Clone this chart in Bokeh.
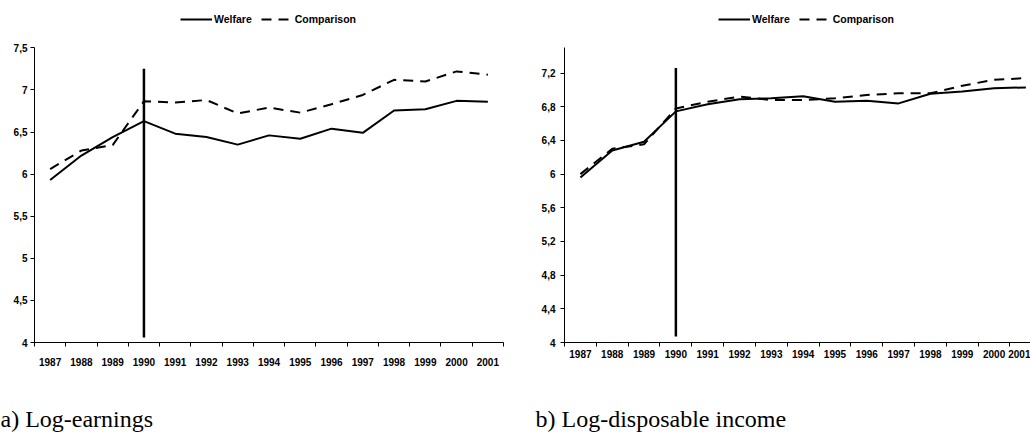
from bokeh.plotting import figure
from bokeh.layouts import row
from bokeh.models import (Range1d, FixedTicker, CustomJSTickFormatter, Legend, LegendItem,
                          Title, ColumnDataSource)
from bokeh.embed import file_html
from bokeh.resources import INLINE

years = ["1987", "1988", "1989", "1990", "1991", "1992", "1993", "1994",
         "1995", "1996", "1997", "1998", "1999", "2000", "2001"]

earn_welfare = [5.93, 6.22, 6.44, 6.63, 6.48, 6.44, 6.35, 6.46, 6.42, 6.54, 6.49, 6.755, 6.77, 6.87, 6.86]
earn_comparison = [6.06, 6.28, 6.345, 6.865, 6.85, 6.88, 6.72, 6.79, 6.73, 6.83, 6.94, 7.12, 7.10, 7.22, 7.18]

inc_welfare = [5.96, 6.28, 6.385, 6.745, 6.83, 6.89, 6.90, 6.925, 6.86, 6.87, 6.84, 6.955, 6.98, 7.02, 7.03]
inc_comparison = [6.0, 6.30, 6.355, 6.78, 6.86, 6.92, 6.88, 6.88, 6.90, 6.94, 6.96, 6.96, 7.05, 7.12, 7.14]

earn_yticks = [4, 4.5, 5, 5.5, 6, 6.5, 7, 7.5]
inc_yticks = [4, 4.4, 4.8, 5.2, 5.6, 6, 6.4, 6.8, 7.2]
y_axis_min, y_axis_max = 4, 7.5

marker_year = "1990"
earn_marker = (4.06, 7.25)
inc_marker = (4.07, 7.26)

FONT = "Liberation Sans"
FRAME_H = 299  # height of the axis part of the plot
EXTRA = 48     # space above the axis top (for the legend), inside the frame


def make_panel(welfare, comparison, yticks, marker, caption, width, border_left,
               border_right, x_end, x_standoff, y_standoff, legend_x, caption_offset,
               spacer_standoff):
    centers = [i + 0.5 for i in range(len(years))]
    units_per_px = (y_axis_max - y_axis_min) / FRAME_H
    p = figure(width=width, height=432, output_backend="svg", toolbar_location=None,
               x_range=Range1d(0, x_end),
               y_range=Range1d(y_axis_min, y_axis_max + EXTRA * units_per_px),
               min_border_left=border_left, min_border_right=border_right,
               min_border_top=0, min_border_bottom=85)
    p.outline_line_color = None
    p.xgrid.grid_line_color = None
    p.ygrid.grid_line_color = None
    p.background_fill_color = "white"
    p.border_fill_color = "white"

    src = ColumnDataSource(dict(x=centers, w=welfare, c=comparison))
    rw = p.line("x", "w", source=src, line_color="black", line_width=2)
    rc = p.line("x", "c", source=src, line_color="black", line_width=2, line_dash="10 7")

    mx = centers[years.index(marker_year)]
    p.segment(x0=[mx], y0=[marker[0]], x1=[mx], y1=[marker[1]], line_color="black", line_width=2.5)

    xa = p.xaxis[0]
    xa.ticker = FixedTicker(ticks=centers, minor_ticks=list(range(len(years) + 1)))
    xa.major_label_overrides = {c: y for c, y in zip(centers, years)}
    xa.major_tick_line_color = None
    xa.major_tick_out = 0
    xa.major_tick_in = 0
    xa.minor_tick_out = 4
    xa.minor_tick_in = 0
    xa.minor_tick_line_color = "black"
    xa.axis_line_color = "black"
    xa.major_label_standoff = x_standoff
    xa.major_label_text_font = FONT
    xa.major_label_text_font_style = "bold"
    xa.major_label_text_font_size = "10px"
    xa.major_label_text_color = "black"
    # blank spacer label to push the caption down
    xa.axis_label = " "
    xa.axis_label_text_font_size = "10px"
    xa.axis_label_standoff = spacer_standoff

    ya = p.yaxis[0]
    ya.bounds = (y_axis_min, y_axis_max)
    ya.ticker = FixedTicker(ticks=yticks, minor_ticks=[])
    ya.formatter = CustomJSTickFormatter(code="""
        var s = (Math.round(tick * 10) / 10).toString();
        return s.replace('.', ',');
    """)
    ya.major_tick_out = 4
    ya.major_tick_in = 0
    ya.major_tick_line_color = "black"
    ya.axis_line_color = "black"
    ya.major_label_standoff = y_standoff
    ya.major_label_text_font = FONT
    ya.major_label_text_font_style = "bold"
    ya.major_label_text_font_size = "10px"
    ya.major_label_text_color = "black"

    legend = Legend(items=[LegendItem(label="Welfare", renderers=[rw]),
                           LegendItem(label="Comparison", renderers=[rc])],
                    orientation="horizontal", location=(legend_x, FRAME_H + EXTRA - 30),
                    glyph_width=32, glyph_height=10, label_standoff=2, spacing=9,
                    padding=0, margin=0, border_line_color=None,
                    background_fill_alpha=0,
                    label_text_font=FONT, label_text_font_style="bold",
                    label_text_font_size="10.5px", label_text_color="black",
                    label_height=10)
    p.add_layout(legend, "center")

    p.add_layout(Title(text=caption, align="left", offset=caption_offset,
                       standoff=1, text_font="Liberation Serif",
                       text_font_size="24px", text_font_style="normal",
                       text_color="black"), "below")
    return p


left = make_panel(earn_welfare, earn_comparison, earn_yticks, earn_marker,
                  "a) Log-earnings", 510, 34, 7, 15, 11, 3, 146, -34, 21)
right = make_panel(inc_welfare, inc_comparison, inc_yticks, inc_marker,
                   "b) Log-disposable income", 520, 54, 0, 465.7 / 31.8, 3, 5, 154, -29, 29)

layout = row(left, right)

open("out.html", "w").write(file_html(layout, INLINE))
